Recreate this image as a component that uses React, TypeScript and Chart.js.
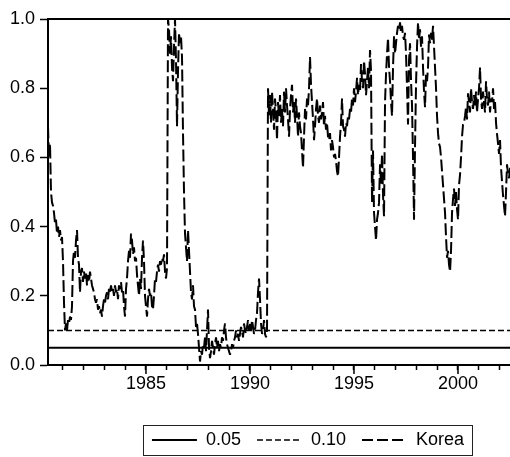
import { useEffect, useRef } from 'react';
import { Chart, registerables } from 'chart.js';

Chart.register(...registerables);

// ---- data ----
const FIRST_OBS = 1980.29; // decimal year of the first observation
const OBS_PER_YEAR = 20.8; // observation frequency
const koreaValues = [
  0.69, 0.60, 0.64, 0.50, 0.47, 0.46, 0.44, 0.41, 0.42, 0.38,
  0.40, 0.37, 0.39, 0.36, 0.37, 0.30, 0.18, 0.10, 0.12, 0.10,
  0.13, 0.12, 0.14, 0.13, 0.17, 0.30, 0.33, 0.31, 0.36, 0.39,
  0.31, 0.29, 0.21, 0.27, 0.28, 0.24, 0.27, 0.25, 0.27, 0.23,
  0.26, 0.24, 0.27, 0.25, 0.23, 0.22, 0.21, 0.19, 0.18, 0.19,
  0.16, 0.17, 0.15, 0.16, 0.14, 0.17, 0.19, 0.18, 0.20, 0.21,
  0.19, 0.22, 0.21, 0.23, 0.21, 0.22, 0.20, 0.23, 0.21, 0.22,
  0.19, 0.23, 0.22, 0.24, 0.21, 0.22, 0.17, 0.14, 0.22, 0.25,
  0.30, 0.33, 0.31, 0.38, 0.36, 0.32, 0.34, 0.30, 0.31, 0.26,
  0.23, 0.20, 0.25, 0.22, 0.31, 0.36, 0.30, 0.20, 0.17, 0.14,
  0.19, 0.22, 0.20, 0.21, 0.17, 0.16, 0.20, 0.25, 0.24, 0.27,
  0.29, 0.27, 0.30, 0.29, 0.31, 0.30, 0.32, 0.27, 0.25, 0.28,
  1.00, 0.97, 0.90, 0.95, 0.86, 0.82, 0.92, 1.00, 0.88, 0.69,
  0.85, 0.96, 0.93, 0.95, 0.89, 0.67, 0.50, 0.38, 0.34, 0.30,
  0.39, 0.33, 0.27, 0.21, 0.19, 0.23, 0.17, 0.16, 0.11, 0.12,
  0.09, 0.05, 0.01, 0.04, 0.03, 0.06, 0.05, 0.08, 0.04, 0.10,
  0.16, 0.05, 0.02, 0.04, 0.07, 0.05, 0.03, 0.06, 0.08, 0.05,
  0.07, 0.04, 0.06, 0.05, 0.08, 0.07, 0.10, 0.12, 0.08, 0.06,
  0.05, 0.04, 0.03, 0.04, 0.06, 0.05, 0.07, 0.08, 0.10, 0.08,
  0.09, 0.07, 0.09, 0.11, 0.10, 0.08, 0.12, 0.10, 0.09, 0.11,
  0.13, 0.10, 0.12, 0.10, 0.13, 0.11, 0.09, 0.10, 0.13, 0.15,
  0.21, 0.25, 0.19, 0.12, 0.09, 0.10, 0.13, 0.09, 0.08, 0.10,
  0.80, 0.72, 0.78, 0.70, 0.79, 0.74, 0.68, 0.77, 0.73, 0.65,
  0.76, 0.72, 0.78, 0.70, 0.74, 0.69, 0.79, 0.73, 0.80, 0.75,
  0.71, 0.66, 0.74, 0.78, 0.81, 0.73, 0.76, 0.70, 0.77, 0.72,
  0.66, 0.73, 0.69, 0.67, 0.62, 0.57, 0.66, 0.74, 0.71, 0.77,
  0.75, 0.80, 0.89, 0.81, 0.76, 0.71, 0.65, 0.69, 0.74, 0.77,
  0.72, 0.70, 0.75, 0.71, 0.73, 0.76, 0.69, 0.72, 0.68, 0.70,
  0.66, 0.65, 0.67, 0.62, 0.65, 0.63, 0.60, 0.61, 0.59, 0.56,
  0.545, 0.60, 0.66, 0.70, 0.77, 0.69, 0.68, 0.66, 0.70, 0.69,
  0.72, 0.71, 0.74, 0.73, 0.77, 0.75, 0.80, 0.76, 0.79, 0.83,
  0.78, 0.81, 0.79, 0.87, 0.82, 0.80, 0.88, 0.84, 0.78, 0.82,
  0.86, 0.80, 0.91, 0.85, 0.47, 0.62, 0.44, 0.40, 0.36, 0.42,
  0.44, 0.47, 0.58, 0.52, 0.61, 0.49, 0.43, 0.76, 0.84, 0.90,
  0.945, 0.86, 0.82, 0.76, 0.72, 0.86, 0.95, 0.90, 0.93, 0.96,
  0.98, 0.97, 0.99, 0.96, 0.98, 0.95, 0.94, 0.96, 0.90, 0.80,
  0.695, 0.88, 0.93, 0.82, 0.75, 0.60, 0.42, 0.63, 0.81, 0.92,
  0.99, 0.94, 0.97, 0.92, 0.95, 0.86, 0.79, 0.745, 0.84, 0.82,
  0.86, 0.955, 0.93, 0.96, 0.94, 0.98, 0.92, 0.86, 0.80, 0.72,
  0.67, 0.64, 0.63, 0.60, 0.56, 0.52, 0.48, 0.44, 0.37, 0.31,
  0.33, 0.29, 0.27, 0.33, 0.44, 0.48, 0.51, 0.46, 0.50, 0.45,
  0.42, 0.52, 0.55, 0.60, 0.66, 0.695, 0.70, 0.72, 0.745, 0.71,
  0.785, 0.76, 0.73, 0.80, 0.76, 0.74, 0.78, 0.75, 0.79, 0.73,
  0.77, 0.80, 0.86, 0.77, 0.74, 0.79, 0.76, 0.73, 0.82, 0.77,
  0.75, 0.79, 0.73, 0.77, 0.76, 0.80, 0.74, 0.76, 0.70, 0.667,
  0.64, 0.61, 0.65, 0.57, 0.53, 0.49, 0.46, 0.43, 0.50, 0.58,
  0.55, 0.54, 0.57,
];
const koreaDates = koreaValues.map((_, i) => FIRST_OBS + i / OBS_PER_YEAR);
const criticalLevels = [0.05, 0.1];
const seriesNames = ['0.05', '0.10', 'Korea'];
const X_MIN = 1980.29;
const X_MAX = 2002.5;
const xTickYears = [
  1981, 1982, 1983, 1984, 1985, 1986, 1987, 1988, 1989, 1990, 1991,
  1992, 1993, 1994, 1995, 1996, 1997, 1998, 1999, 2000, 2001, 2002,
];
const xLabelYears = [1985, 1990, 1995, 2000];
const yTickValues = [0, 0.2, 0.4, 0.6, 0.8, 1.0];

const FONT = 'Liberation Sans, Arial, Helvetica, sans-serif';

const framePlugin = {
  id: 'frameAndLegendBox',
  afterLayout(chart: any) {
    const lg = chart.legend;
    if (lg) {
      lg.left += 53;
      lg.right += 53;
      lg.top += 2;
      lg.bottom += 2;
    }
  },
  afterDraw(chart: any) {
    const { ctx, chartArea: a, scales } = chart;
    ctx.save();
    ctx.strokeStyle = '#000';
    ctx.setLineDash([]);
    ctx.lineWidth = 2;
    ctx.beginPath();
    ctx.moveTo(a.left - 1, a.top);
    ctx.lineTo(a.right, a.top);
    ctx.stroke();
    ctx.lineWidth = 1.5;
    const xs = scales.x;
    xLabelYears.forEach((yr) => {
      const px = xs.getPixelForValue(yr);
      ctx.beginPath();
      ctx.moveTo(px, a.bottom);
      ctx.lineTo(px, a.bottom + 9);
      ctx.stroke();
    });
    const hb = chart.legend?.legendHitBoxes;
    if (hb && hb.length) {
      const first = hb[0];
      const last = hb[hb.length - 1];
      const cy = first.top + first.height / 2;
      const l = Math.round(first.left - 9) + 0.5;
      const r = Math.round(last.left + last.width + 8) + 0.5;
      const t = Math.round(cy - 15) + 0.5;
      const b = Math.round(cy + 15) + 0.5;
      ctx.lineWidth = 1;
      ctx.strokeStyle = '#222';
      ctx.strokeRect(l, t, r - l, b - t);
    }
    ctx.restore();
  },
};

export default function App() {
  const ref = useRef<HTMLCanvasElement>(null);
  useEffect(() => {
    if (!ref.current) return;
    const levelLine = (v: number) => [
      { x: X_MIN, y: v },
      { x: X_MAX, y: v },
    ];
    const koreaPoints = koreaDates.map((d, i) => ({ x: d, y: koreaValues[i] }));
    const chart = new Chart(ref.current, {
      type: 'line',
      data: {
        datasets: [
          {
            label: seriesNames[0],
            data: levelLine(criticalLevels[0]),
            borderColor: '#000',
            backgroundColor: '#000',
            borderWidth: 2,
            borderDash: [],
            pointRadius: 0,
          },
          {
            label: seriesNames[1],
            data: levelLine(criticalLevels[1]),
            borderColor: '#000',
            backgroundColor: '#000',
            borderWidth: 1.5,
            borderDash: [6, 3],
            pointRadius: 0,
          },
          {
            label: seriesNames[2],
            data: koreaPoints,
            borderColor: '#000',
            backgroundColor: '#000',
            borderWidth: 2,
            borderDash: [12, 4],
            borderJoinStyle: 'bevel',
            pointRadius: 0,
          },
        ],
      } as any,
      options: {
        animation: false,
        responsive: false,
        devicePixelRatio: 1,
        layout: { padding: { top: 19, left: 0, right: 0, bottom: 0 } },
        elements: { line: { tension: 0 } },
        plugins: {
          tooltip: { enabled: false },
          legend: {
            position: 'bottom',
            labels: {
              usePointStyle: true,
              pointStyle: 'line',
              pointStyleWidth: 45,
              padding: 16,
              color: '#000',
              font: { family: FONT, size: 18 },
              generateLabels: (chart: any) =>
                chart.data.datasets.map((ds: any, i: number) => ({
                  text: ds.label,
                  datasetIndex: i,
                  fillStyle: '#000',
                  strokeStyle: '#000',
                  fontColor: '#000',
                  lineWidth: i === 1 ? 1.5 : 2,
                  lineDash: i === 2 ? [11, 4] : i === 1 ? [6, 3] : [],
                  lineCap: 'butt',
                  pointStyle: 'line',
                  hidden: false,
                })),
            },
          },
        },
        scales: {
          x: {
            type: 'linear',
            min: X_MIN,
            max: X_MAX,
            afterBuildTicks: (s: any) => {
              s.ticks = xTickYears.map((v) => ({ value: v }));
            },
            afterFit: (s: any) => {
              s.height = 48;
            },
            ticks: {
              autoSkip: false,
              maxRotation: 0,
              padding: 3,
              color: '#000',
              font: { family: FONT, size: 18 },
              callback: (v: any) => (xLabelYears.includes(Number(v)) ? String(v) : ''),
            },
            grid: {
              drawOnChartArea: false,
              drawTicks: true,
              tickLength: 5,
              tickWidth: 1.5,
              tickColor: '#000',
            },
            border: { display: true, color: '#000', width: 2 },
          },
          y: {
            type: 'linear',
            min: 0,
            max: 1,
            afterBuildTicks: (s: any) => {
              s.ticks = yTickValues.map((v) => ({ value: v }));
            },
            afterFit: (s: any) => {
              s.width = 48;
            },
            ticks: {
              padding: 5,
              color: '#000',
              font: { family: FONT, size: 18 },
              callback: (v: any) => Number(v).toFixed(1),
            },
            grid: {
              drawOnChartArea: false,
              drawTicks: true,
              tickLength: 8,
              tickWidth: 1.5,
              tickColor: '#000',
            },
            border: { display: true, color: '#000', width: 2 },
          },
        },
      } as any,
      plugins: [framePlugin],
    });
    return () => chart.destroy();
  }, []);
  return (
    <div style={{ position: 'absolute', left: 0, top: 0, width: 510, height: 457 }}>
      <canvas ref={ref} width={510} height={457} style={{ display: 'block' }} />
    </div>
  );
}
